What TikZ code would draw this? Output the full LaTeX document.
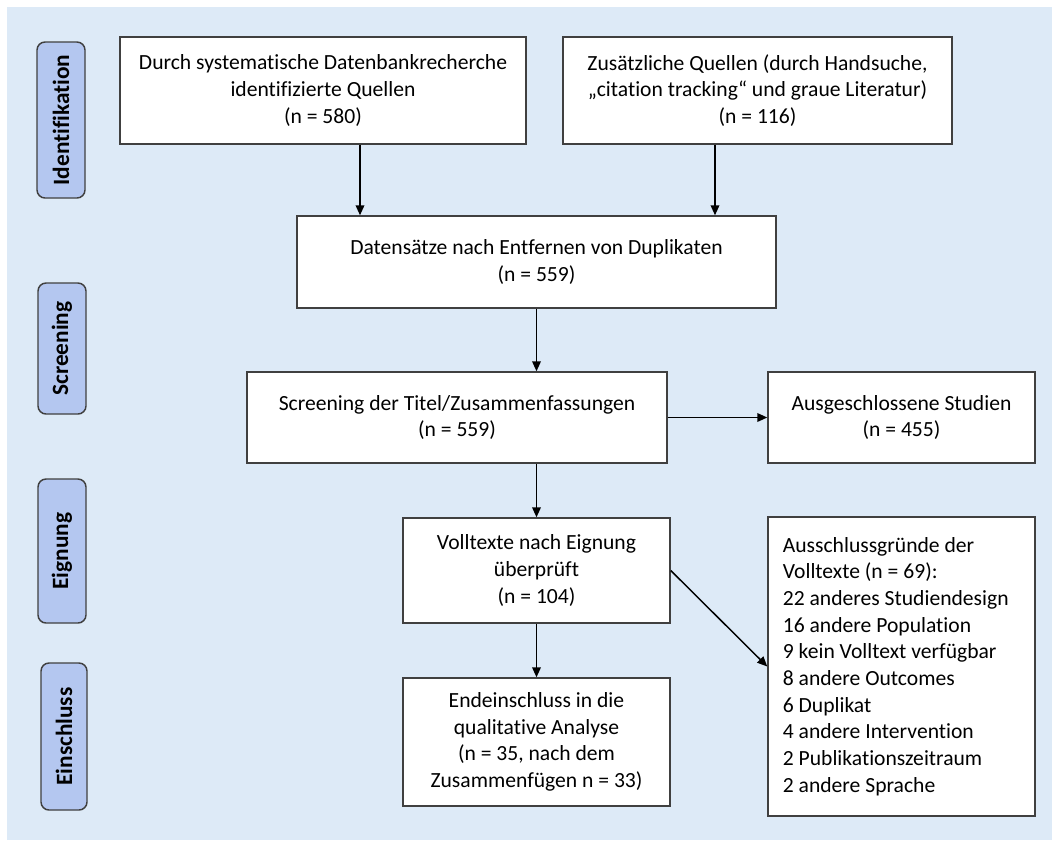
\documentclass[tikz,border=0pt]{standalone}
\usepackage{fontspec}
\setmainfont{Carlito}[Ligatures=NoCommon]
\usetikzlibrary{arrows.meta}
\definecolor{bgblue}{RGB}{221,234,247}
\definecolor{tabblue}{RGB}{180,199,240}
\definecolor{edgegray}{RGB}{64,64,64}
\tikzset{
  flowbox/.style={draw=edgegray, line width=1.1pt, fill=white, align=center, inner sep=0pt, font=\fontsize{16.2}{20}\selectfont},
  phasetab/.style={draw=edgegray, line width=1.1pt, fill=tabblue, rounded corners=6pt, rotate=90, inner sep=0pt, font=\fontsize{17.5}{20}\selectfont\bfseries},
  flowarrow/.style={line width=1.1pt, -{Triangle[length=7.5pt,width=6.5pt]}}
}
\begin{document}
\begin{tikzpicture}[x=0.75pt,y=0.75pt,yscale=-1,xscale=1]
    \useasboundingbox (0,0) rectangle (1052,843);
    %Shape: Rectangle [background]
    \fill[bgblue] (7,7) rectangle (1052,840);

    % Phase tabs
    \node (tabId) [phasetab, minimum width=117pt, minimum height=36pt] at (61,120) {Identifikation};
    \node (tabScr) [phasetab, minimum width=98.25pt, minimum height=36pt] at (62,348.5) {Screening};
    \node (tabElig) [phasetab, minimum width=108pt, minimum height=36pt] at (62,551) {Eignung};
    \node (tabIncl) [phasetab, minimum width=110.25pt, minimum height=34.5pt] at (64,736.5) {Einschluss};

    % Text Node
    \node (dbsearch) [flowbox, minimum width=304.5pt, minimum height=80.25pt] at (323,90.5) {Durch systematische Datenbankrecherche\\identifizierte Quellen\\(n = 580)};
    % Text Node
    \node (extra) [flowbox, minimum width=291.75pt, minimum height=80.25pt] at (757.5,90.5) {Zusätzliche Quellen (durch Handsuche,\\„citation tracking“ und graue Literatur)\\(n = 116)};
    % Text Node
    \node (dedup) [flowbox, minimum width=359.25pt, minimum height=69pt] at (536.5,262) {Datensätze nach Entfernen von Duplikaten\\(n = 559)};
    % Text Node
    \node (screen) [flowbox, minimum width=315pt, minimum height=68.25pt] at (457,417.5) {Screening der Titel/Zusammenfassungen\\(n = 559)};
    % Text Node
    \node (excl) [flowbox, minimum width=200.25pt, minimum height=68.25pt] at (901.5,417.5) {Ausgeschlossene Studien\\(n = 455)};
    % Text Node
    \node (fulltext) [flowbox, minimum width=200.25pt, minimum height=78.75pt] at (536.5,570.5) {Volltexte nach Eignung\\überprüft\\(n = 104)};
    % Text Node
    \node (reasons) [flowbox, minimum width=200.25pt, minimum height=224.25pt, text width=178pt, align=flush left] at (901.5,666.5) {Ausschlussgründe der\\Volltexte (n = 69):\\22 anderes Studiendesign\\16 andere Population\\9 kein Volltext verfügbar\\8 andere Outcomes\\6 Duplikat\\4 andere Intervention\\2 Publikationszeitraum\\2 andere Sprache};
    % Text Node
    \node (final) [flowbox, minimum width=200.25pt, minimum height=96pt] at (536.5,742) {Endeinschluss in die\\qualitative Analyse\\(n = 35, nach dem\\Zusammenfügen n = 33)};

    %Straight Lines
    \draw[flowarrow] (dbsearch.south -| 360,0) -- (dedup.north -| 360,0);
    \draw[flowarrow] (extra.south -| 715,0) -- (dedup.north -| 715,0);
    \draw[flowarrow] (dedup.south) -- (dedup.south |- screen.north);
    \draw[flowarrow] (screen.east) -- (excl.west);
    \draw[flowarrow] (fulltext.north |- screen.south) -- (fulltext.north);
    \draw[flowarrow] (fulltext.east) -- (reasons.west);
    \draw[flowarrow] (fulltext.south) -- (final.north);
\end{tikzpicture}
\end{document}
